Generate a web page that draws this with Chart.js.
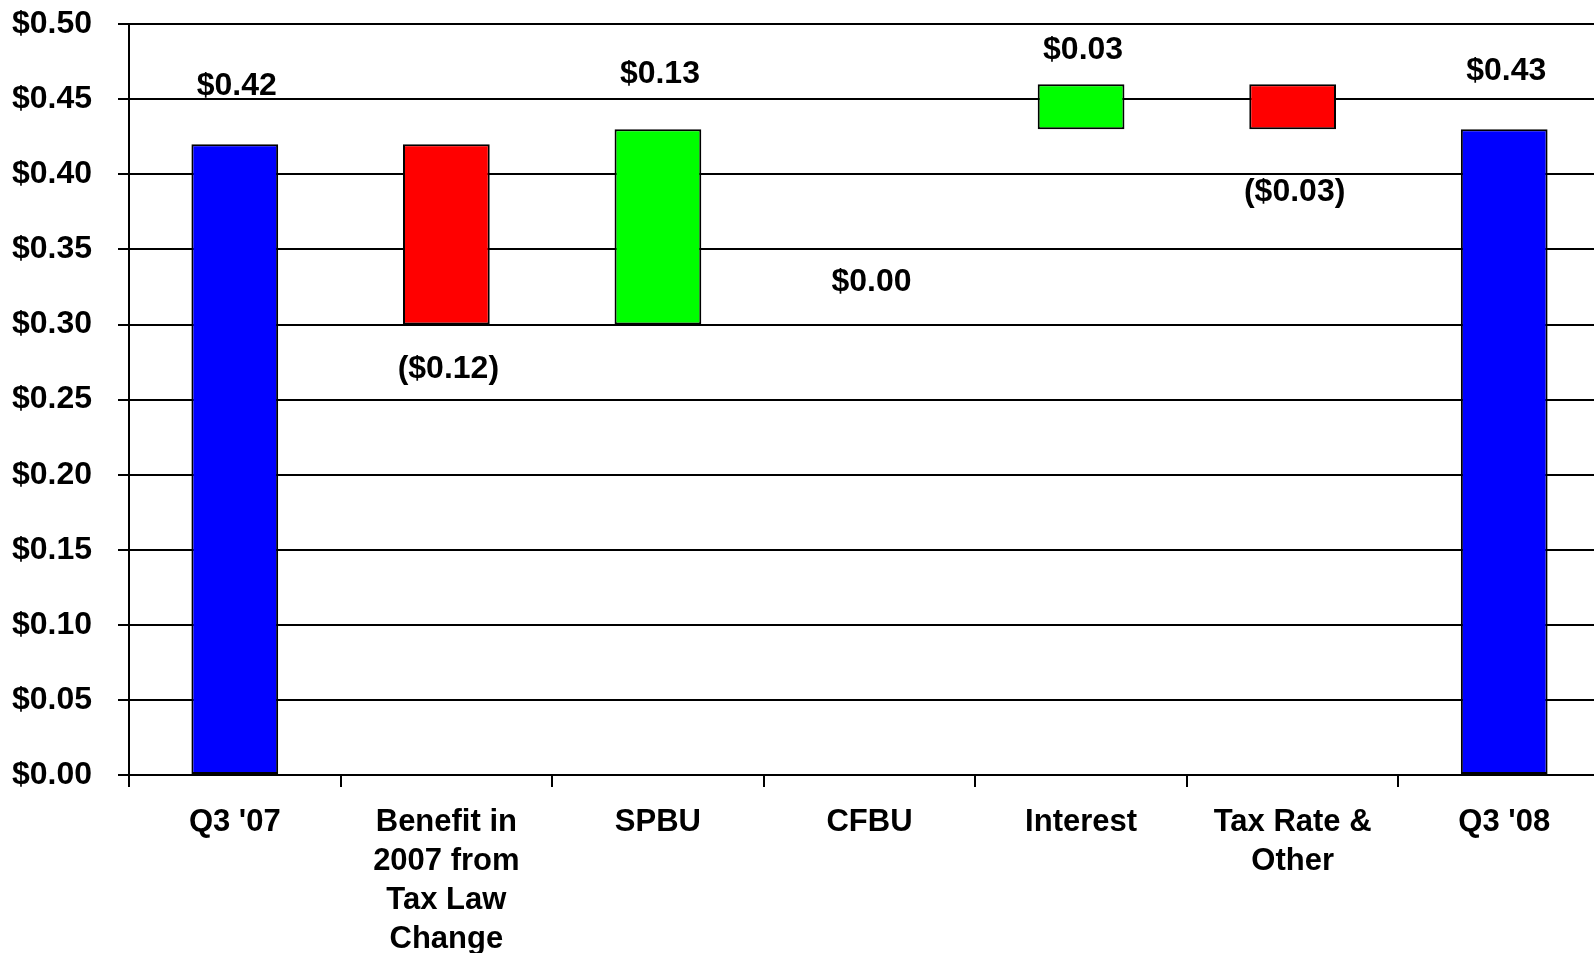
<!DOCTYPE html>
<html>
<head>
<meta charset="utf-8">
<script src="https://cdn.jsdelivr.net/npm/chart.js@4"></script>
<style>
  html, body { margin: 0; padding: 0; background: #fff; overflow: hidden; }
  #wrap { position: relative; width: 1610px; height: 974px; margin-top: -21px; }
</style>
</head>
<body>
<div id="wrap"><canvas id="chartEps"></canvas></div>
<script>
// Datos del puente EPS Q3 '07 -> Q3 '08
const categorias = ["Q3 '07", ['Benefit in', '2007 from', 'Tax Law', 'Change'], 'SPBU', 'CFBU', 'Interest', ['Tax Rate &', 'Other'], "Q3 '08"];
const barraDesde = [0, 0.30, 0.30, null, 0.43, 0.43, 0];
const barraHasta = [0.42, 0.42, 0.43, null, 0.46, 0.46, 0.43];
const coloresBarra = ['#0000FF', '#FF0000', '#00FF00', '#FFFFFF', '#00FF00', '#FF0000', '#0000FF'];
const etiquetas = ['$0.42', '($0.12)', '$0.13', '$0.00', '$0.03', '($0.03)', '$0.43'];
const etiquetaEn = [0.459, 0.270, 0.467, 0.328, 0.483, 0.388, 0.469]; // altura de cada etiqueta (en $)

const familia = '"Liberation Sans", Arial, sans-serif';
const fuenteY = { family: familia, weight: 'bold', size: 32 };
const fuenteX = { family: familia, weight: 'bold', size: 31, lineHeight: 1.26 };

// etiquetas de valor encima / debajo de las barras
const valueLabels = {
  id: 'valueLabels',
  afterDatasetsDraw(chart) {
    const { ctx, scales: { x, y } } = chart;
    ctx.save();
    ctx.font = `bold 32px ${familia}`;
    ctx.fillStyle = '#000';
    ctx.textAlign = 'center';
    ctx.textBaseline = 'middle';
    etiquetas.forEach((t, i) => {
      ctx.fillText(t, x.getPixelForValue(i) + 2, y.getPixelForValue(etiquetaEn[i]));
    });
    ctx.restore();
  }
};

new Chart(document.getElementById('chartEps'), {
  type: 'bar',
  data: {
    labels: categorias,
    datasets: [{
      data: barraDesde.map((d, i) => d === null ? null : [d, barraHasta[i]]),
      backgroundColor: coloresBarra,
      borderColor: '#000',
      borderWidth: 2,
      borderSkipped: false,
      barPercentage: 0.41,
      categoryPercentage: 1
    }]
  },
  options: {
    responsive: true,
    maintainAspectRatio: false,
    animation: false,
    layout: { padding: { top: 4, left: 0, right: 0, bottom: 0 } },
    plugins: { legend: { display: false }, tooltip: { enabled: false } },
    scales: {
      x: {
        grid: { drawOnChartArea: false, drawTicks: true, tickLength: 12, color: '#000', lineWidth: 2 },
        border: { color: '#000', width: 2 },
        ticks: { color: '#000', font: fuenteX, padding: 16, maxRotation: 0, autoSkip: false },
        afterFit(s) { s.height = 178; }
      },
      y: {
        min: 0, max: 0.5,
        grid: { color: '#000', lineWidth: 2, tickLength: 11 },
        border: { color: '#000', width: 2 },
        ticks: { stepSize: 0.05, color: '#000', font: fuenteY, padding: 26, callback: v => '$' + v.toFixed(2) },
        afterFit(s) { s.width = 129; }
      }
    }
  },
  plugins: [valueLabels]
});
</script>
</body>
</html>
